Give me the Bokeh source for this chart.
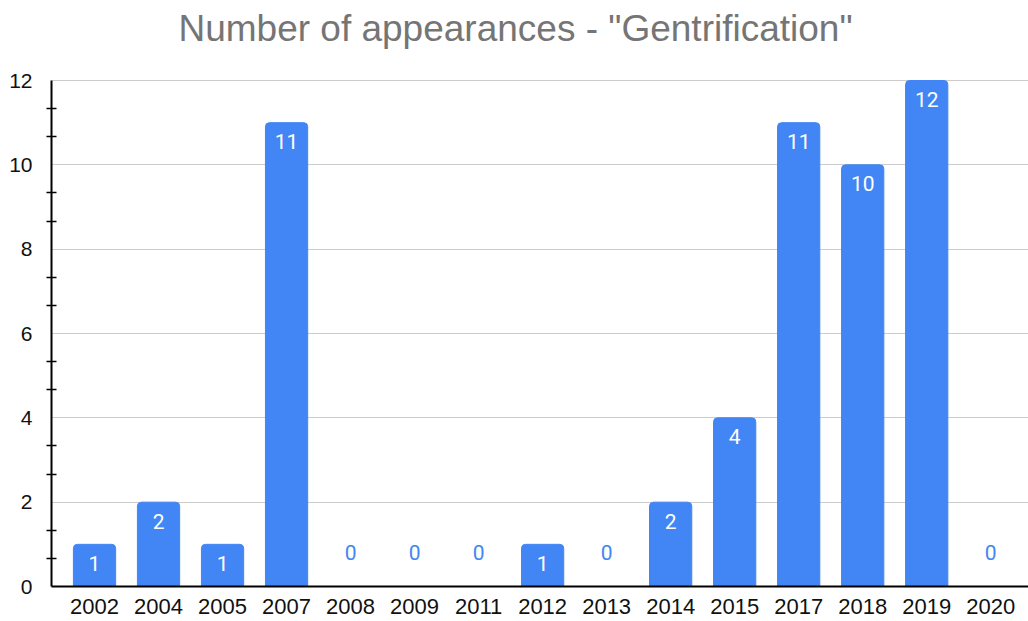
from bokeh.plotting import figure
from bokeh.models import ColumnDataSource, Range1d, FixedTicker, Label
from bokeh.core.properties import value
from bokeh.embed import file_html
from bokeh.resources import INLINE

years = ["2002", "2004", "2005", "2007", "2008", "2009", "2011", "2012",
         "2013", "2014", "2015", "2017", "2018", "2019", "2020"]
counts = [1, 2, 1, 11, 0, 0, 0, 1, 0, 2, 4, 11, 10, 12, 0]
y_ticks = [0, 2, 4, 6, 8, 10, 12]
title_text = 'Number of appearances - "Gentrification"'

BLUE = "#4285F4"
idx = list(range(len(years)))

src = ColumnDataSource(dict(x=idx, top=counts, lab=[str(c) for c in counts]))
nz = ColumnDataSource(dict(x=[i for i, c in zip(idx, counts) if c > 0],
                           y=[c for c in counts if c > 0],
                           lab=[str(c) for c in counts if c > 0]))
zz = ColumnDataSource(dict(x=[i for i, c in zip(idx, counts) if c == 0],
                           y=[c for c in counts if c == 0],
                           lab=[str(c) for c in counts if c == 0]))

# frame spans full height above the axis; top 80px of it hold the title
p = figure(width=1028, height=621, output_backend="svg", toolbar_location=None,
           x_range=Range1d(-0.672, 14.59), y_range=Range1d(0, 12 * 586 / 506),
           min_border_left=51, min_border_right=0, min_border_top=0,
           min_border_bottom=35)
p.outline_line_color = None
p.background_fill_color = "white"
p.border_fill_color = "white"

p.add_layout(Label(x=464, y=558, x_units="screen", y_units="screen",
                   text=title_text, text_align="center", text_baseline="middle",
                   text_font="Liberation Sans", text_font_size="37px",
                   text_color="#757575"))

p.vbar(x="x", top="top", width=0.66, bottom=0, source=src, color=BLUE,
       border_radius=(4, 4, 0, 0))

p.text(x="x", y="y", text="lab", source=nz, text_color="white",
       text_font=value("Roboto"), text_font_size="21px",
       text_align="center", text_baseline="middle", y_offset=19)
p.text(x="x", y="y", text="lab", source=zz, text_color=BLUE,
       text_font=value("Roboto"), text_font_size="21px",
       text_align="center", text_baseline="middle", y_offset=-34)

# x axis
p.xaxis.ticker = FixedTicker(ticks=idx)
p.xaxis.major_label_overrides = {i: y for i, y in zip(idx, years)}
p.xaxis.major_tick_line_color = None
p.xaxis.minor_tick_line_color = None
p.xaxis.axis_line_color = "black"
p.xaxis.axis_line_width = 2
p.xaxis.major_label_text_font = "Liberation Sans"
p.xaxis.major_label_text_font_size = "22px"
p.xaxis.major_label_text_color = "#111111"
p.xaxis.major_label_standoff = 6

# y axis
p.yaxis.ticker = FixedTicker(ticks=y_ticks, minor_ticks=[t + d for t in y_ticks[:-1] for d in (2/3, 4/3)])
p.yaxis.bounds = (y_ticks[0], y_ticks[-1])
p.yaxis.major_tick_line_color = None
p.yaxis.minor_tick_in = 5
p.yaxis.minor_tick_out = 5
p.yaxis.minor_tick_line_color = "black"
p.yaxis.minor_tick_line_width = 1.5
p.yaxis.axis_line_color = "black"
p.yaxis.axis_line_width = 2
p.yaxis.major_label_text_font = "Liberation Sans"
p.yaxis.major_label_text_font_size = "21px"
p.yaxis.major_label_text_color = "#111111"
p.yaxis.major_label_standoff = 13

p.xgrid.grid_line_color = None
p.ygrid.grid_line_color = "#cccccc"
p.ygrid.grid_line_width = 1

open("out.html", "w").write(file_html(p, INLINE))
